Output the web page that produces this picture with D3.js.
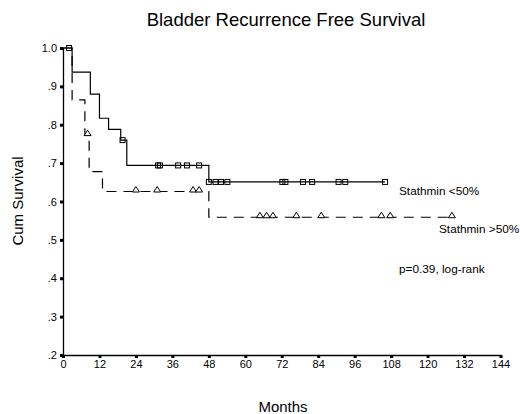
<!DOCTYPE html>
<head>
<meta charset="utf-8">
<script src="https://cdnjs.cloudflare.com/ajax/libs/d3/7.8.5/d3.min.js"></script>
<style>
  html, body { margin: 0; padding: 0; background: #fff; }
  svg { display: block; }
  text { font-family: "Liberation Sans", Arial, sans-serif; fill: #000; }
</style>
</head>
<body>
<svg id="chart" width="520" height="414"></svg>
<script>
// x axis ticks (months) and y axis ticks
var monthTicks = [0, 12, 24, 36, 48, 60, 72, 84, 96, 108, 120, 132, 144];
var survTicks = [0.2, 0.3, 0.4, 0.5, 0.6, 0.7, 0.8, 0.9, 1.0];

// Stathmin <50% : step times, survival after step, censored times
var lowTimes = [0, 3, 9, 12, 15, 19, 21, 48];
var lowSurv = [1.0, 0.937, 0.88, 0.817, 0.788, 0.76, 0.694, 0.651];
var lowEnd = 106;
var lowCensor = [2, 19.6, 31.3, 31.9, 37.9, 40.8, 44.8, 48, 50.2, 52, 54.1, 72.2, 73.2, 79, 82, 90.7, 92.9, 106];

// Stathmin >50%
var highTimes = [0, 3, 7.2, 8.6, 13, 48];
var highSurv = [1.0, 0.865, 0.773, 0.678, 0.626, 0.559];
var highEnd = 128;
var highCensor = [8.1, 24, 31, 42.8, 44.8, 64.8, 67, 69.1, 76.8, 85, 104.8, 107.7, 128];

var svg = d3.select('#chart');
var x = d3.scaleLinear().domain([0, 144]).range([63, 500.5]);
var y = d3.scaleLinear().domain([0.2, 1.0]).range([355, 48]);

function stepAt(times, surv, t) {
    var i = d3.bisectRight(times, t) - 1;
    return surv[Math.max(i, 0)];
}

svg.append('text').attr('x', 286).attr('y', 26).attr('text-anchor', 'middle')
    .style('font-size', '18.5px').text('Bladder Recurrence Free Survival');

// axes
var xAxis = d3.axisBottom(x).tickValues(monthTicks).tickSize(3).tickPadding(2);
var gx = svg.append('g').attr('transform', 'translate(0,355)').call(xAxis);
var yAxis = d3.axisLeft(y).tickValues(survTicks).tickSize(3).tickPadding(3)
    .tickFormat(function(d) { return d === 1 ? '1.0' : d3.format('.1f')(d).replace('0.', '.'); });
var gy = svg.append('g').attr('transform', 'translate(63,0)').call(yAxis);
[gx, gy].forEach(function(g) {
    g.select('.domain').attr('stroke', '#000').attr('stroke-width', 1.3);
    g.selectAll('.tick line').attr('stroke', '#000').attr('stroke-width', 3);
    g.selectAll('.tick text').style('font-size', '11px').style('font-family', '"Liberation Sans", Arial, sans-serif');
});

svg.append('text').attr('transform', 'translate(23,201) rotate(-90)').attr('text-anchor', 'middle')
    .style('font-size', '15px').text('Cum Survival');
svg.append('text').attr('x', 283).attr('y', 412).attr('text-anchor', 'middle')
    .style('font-size', '15px').text('Months');

var line = d3.line().x(function(d) { return x(d[0]); }).y(function(d) { return y(d[1]); })
    .curve(d3.curveStepAfter);

function drawGroup(times, surv, end, censor, dash, mark) {
    var pts = times.map(function(t, i) { return [t, surv[i]]; });
    pts.push([end, surv[surv.length - 1]]);
    svg.append('path').datum(pts).attr('d', line).attr('fill', 'none')
        .attr('stroke', '#000').attr('stroke-width', 1.2).attr('stroke-dasharray', dash);
    var g = svg.append('g');
    censor.forEach(function(t) {
        var cx = x(t), cy = y(stepAt(times, surv, t));
        if (mark === 'square') {
            g.append('rect').attr('x', cx - 2.5).attr('y', cy - 2.5).attr('width', 5).attr('height', 5)
                .attr('fill', 'none').attr('stroke', '#000').attr('stroke-width', 1);
        } else {
            g.append('path').attr('d', 'M' + (cx - 3.5) + ',' + (cy + 0.5) + 'L' + cx + ',' + (cy - 5) + 'L' + (cx + 3.5) + ',' + (cy + 0.5) + 'Z')
                .attr('fill', '#fff').attr('stroke', '#000').attr('stroke-width', 1);
        }
    });
}

drawGroup(highTimes, highSurv, highEnd, highCensor, '10,7', 'triangle');
drawGroup(lowTimes, lowSurv, lowEnd, lowCensor, null, 'square');

svg.append('text').attr('x', 399).attr('y', 195).style('font-size', '11.8px').text('Stathmin <50%');
svg.append('text').attr('x', 439).attr('y', 233).style('font-size', '11.8px').text('Stathmin >50%');
svg.append('text').attr('x', 399).attr('y', 273).style('font-size', '11.8px').text('p=0.39, log-rank');
</script>
</body>
</html>
